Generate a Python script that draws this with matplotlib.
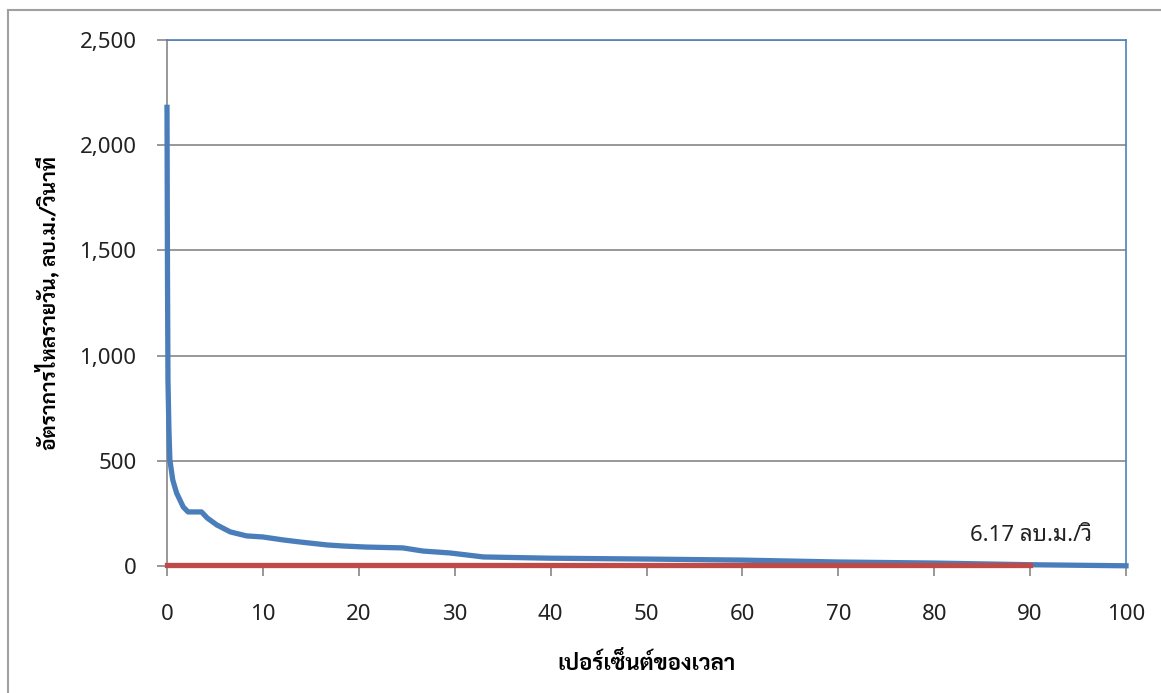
import matplotlib
matplotlib.use('Agg')
import matplotlib.pyplot as plt
from matplotlib import font_manager
from matplotlib.lines import Line2D

plt.rcParams['font.family'] = ['Noto Sans Thai Looped', 'Noto Sans', 'DejaVu Sans']

# a Thai font with a real bold face for the axis titles
bold_thai = 'Noto Sans Thai Looped'
have_bold = {f.name for f in font_manager.fontManager.ttflist
             if f.weight in (600, 700, 800, 'bold', 'semibold')}
for name in ['Noto Sans Thai Looped', 'Sarabun', 'Noto Sans Thai', 'Niramit']:
    if name in have_bold:
        bold_thai = name
        break

# flow duration curve
pct  = [0, 0.05, 0.1, 0.2, 0.3, 0.6, 1.0, 1.7, 2.2, 3.6, 4.2, 5.2, 6.6, 8.3, 10,
        12.1, 13.9, 16.7, 18.4, 20.8, 24.6, 26.7, 29.5, 33, 40, 50, 60, 70, 80, 90, 100]
flow = [2180, 1400, 884, 650, 504, 409, 347, 280, 257, 257, 228, 195, 162, 143, 138,
        124, 114, 100, 95, 90, 86, 71, 62, 43, 37, 33, 28, 19, 14, 6, 1]
q90_x = [0, 90]
q90_y = [6.17, 6.17]
q90_label = '6.17 ลบ.ม./วิ'

fig = plt.figure(figsize=(11.61, 6.93), dpi=100)
ax = fig.add_axes([167/1161, 1-566/693, (1126-167)/1161, (566-40)/693])

ax.plot(pct, flow, color='#4a7ebb', lw=3.8, solid_joinstyle='round', zorder=3, clip_on=False)
ax.plot(q90_x, q90_y, color='#be4b48', lw=3.8, zorder=4, clip_on=False)
ax.text(96.5, 147, q90_label, ha='right', va='center', fontsize=16, color='#222222')

ax.set_xlim(0, 100)
ax.set_ylim(0, 2500)
ax.set_xticks(range(0, 101, 10))
ax.set_yticks(range(0, 2501, 500))
ax.set_yticklabels([f'{v:,}' for v in range(0, 2501, 500)])
ax.yaxis.grid(True, color='#868686', lw=1.2)
ax.set_axisbelow(True)
ax.tick_params(colors='#868686', labelcolor='#222222', labelsize=16, length=7, width=1.2)
ax.tick_params(axis='x', pad=20)
ax.tick_params(axis='y', pad=15)
for s in ['left', 'bottom']:
    ax.spines[s].set_color('#868686')
    ax.spines[s].set_linewidth(1.2)
for s in ['top', 'right']:
    ax.spines[s].set_color('#4f81bd')
    ax.spines[s].set_linewidth(1.2)

ax.set_xlabel('เปอร์เซ็นต์ของเวลา', fontsize=16, fontweight='bold', labelpad=20,
              family=[bold_thai, 'Noto Sans'])
ax.set_ylabel('อัตราการไหลรายวัน, ลบ.ม./วินาที', fontsize=15, fontweight='bold', labelpad=14,
              family=[bold_thai, 'Noto Sans'])

# outer chart border
fig.add_artist(Line2D([8/1161, 8/1161], [0, 1-10/693], color='#a0a0a0', lw=1.5))
fig.add_artist(Line2D([8/1161, 1], [1-10/693, 1-10/693], color='#a0a0a0', lw=1.5))

fig.savefig('out.png', dpi=100)
